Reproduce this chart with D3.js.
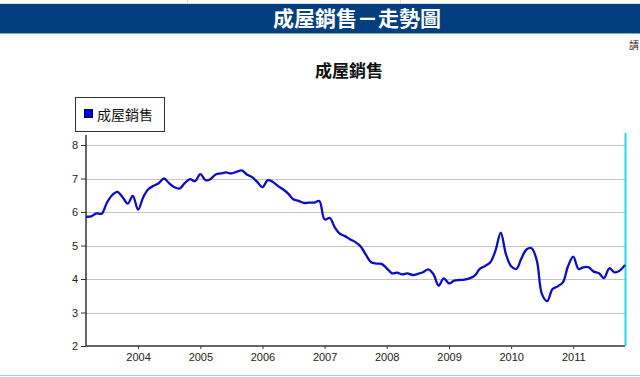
<!DOCTYPE html>
<html>
<head>
<meta charset="utf-8">
<script src="https://cdn.jsdelivr.net/npm/d3@7"></script>
<style>
  html, body { margin: 0; padding: 0; background: #fff; overflow: hidden; }
  svg { display: block; }
</style>
</head>
<body>
<div id="chart"></div>
<script>
// monthly values, Mar 2003 .. Nov 2011
const sales2003 = [5.86, 5.87, 5.96, 5.95, 6.27, 6.5, 6.6, 6.45, 6.25, 6.48];
const sales2004 = [6.07, 6.45, 6.68, 6.78, 6.86, 7.0, 6.86, 6.74, 6.7, 6.86, 6.98, 6.92];
const sales2005 = [7.13, 6.95, 6.98, 7.12, 7.15, 7.18, 7.15, 7.2, 7.24, 7.12, 7.04, 6.9];
const sales2006 = [6.74, 6.95, 6.9, 6.78, 6.68, 6.55, 6.38, 6.33, 6.27, 6.28, 6.28, 6.33];
const sales2007 = [5.78, 5.82, 5.55, 5.35, 5.28, 5.18, 5.1, 4.97, 4.72, 4.5, 4.46, 4.45];
const sales2008 = [4.32, 4.17, 4.19, 4.14, 4.17, 4.12, 4.15, 4.2, 4.29, 4.15, 3.8, 4.02];
const sales2009 = [3.87, 3.95, 3.97, 3.98, 4.02, 4.1, 4.3, 4.39, 4.5, 4.85, 5.38, 4.75];
const sales2010 = [4.38, 4.3, 4.6, 4.88, 4.92, 4.55, 3.55, 3.34, 3.7, 3.78, 3.9, 4.38];
const sales2011 = [4.67, 4.3, 4.35, 4.35, 4.22, 4.17, 4.03, 4.32, 4.2, 4.25, 4.42];

const yearTicks = [2004, 2005, 2006, 2007, 2008, 2009, 2010, 2011];
const valueTicks = [2, 3, 4, 5, 6, 7, 8];
const seriesName = '成屋銷售';
const pageTitle = '成屋銷售－走勢圖';

const values = [].concat(sales2003, sales2004, sales2005, sales2006, sales2007,
  sales2008, sales2009, sales2010, sales2011);
const months = d3.timeMonth.range(new Date(2003, 2, 1), new Date(2011, 11, 1));
const data = months.map((m, i) => ({ date: m, value: values[i] }));

const width = 640, height = 377;
const plot = { left: 86, right: 625, top: 135, bottom: 346 };

const svg = d3.select('#chart').append('svg')
  .attr('width', width).attr('height', height);

// page header
svg.append('line').attr('x1', 0).attr('x2', width).attr('y1', 3.5).attr('y2', 3.5)
  .attr('stroke', '#d8dde4');
[187, 400].forEach(x => {
  svg.append('line').attr('x1', x + 0.5).attr('x2', x + 0.5).attr('y1', 0).attr('y2', 3)
    .attr('stroke', '#cfd6de');
});
svg.append('rect').attr('x', 0).attr('y', 4).attr('width', width).attr('height', 29)
  .attr('fill', '#033e7e');
svg.append('line').attr('x1', 0).attr('x2', width).attr('y1', 33.5).attr('y2', 33.5)
  .attr('stroke', '#7fa6cf');
svg.append('text').attr('x', 357).attr('y', 26)
  .attr('text-anchor', 'middle').attr('fill', '#fff')
  .attr('font-family', '"Noto Sans CJK TC", sans-serif')
  .attr('font-size', '21px').attr('font-weight', '700')
  .text(pageTitle);
svg.append('text').attr('x', 629).attr('y', 49)
  .attr('fill', '#3a1a1a').attr('font-family', '"Noto Sans CJK TC", sans-serif')
  .attr('font-size', '10px').text('請');

// bottom border
svg.append('line').attr('x1', 0).attr('x2', width).attr('y1', 375.5).attr('y2', 375.5)
  .attr('stroke', '#a9c6e3');

const x = d3.scaleTime()
  .domain([months[0], months[months.length - 1]])
  .range([plot.left, plot.right]);
const y = d3.scaleLinear().domain([2, 8]).range([plot.bottom, 145]);

// chart title
svg.append('text').attr('x', 349).attr('y', 77)
  .attr('text-anchor', 'middle').attr('fill', '#111')
  .attr('font-family', '"Noto Sans CJK TC", sans-serif')
  .attr('font-size', '17px').attr('font-weight', '700')
  .text(seriesName);

// legend
const leg = svg.append('g');
leg.append('rect').attr('x', 75.5).attr('y', 97.5).attr('width', 89).attr('height', 34)
  .attr('fill', '#fff').attr('stroke', '#333');
leg.append('rect').attr('x', 84.5).attr('y', 109.5).attr('width', 8).attr('height', 8)
  .attr('fill', '#0000e0').attr('stroke', '#000033');
leg.append('text').attr('x', 97).attr('y', 120)
  .attr('fill', '#111').attr('font-family', '"Noto Sans CJK TC", sans-serif')
  .attr('font-size', '14px').text(seriesName);

// gridlines
svg.append('g').selectAll('line').data(valueTicks.filter(v => v > 2)).join('line')
  .attr('x1', plot.left).attr('x2', plot.right)
  .attr('y1', d => Math.round(y(d)) + 0.5).attr('y2', d => Math.round(y(d)) + 0.5)
  .attr('stroke', '#c4c4c4');

// y axis
const yAxis = svg.append('g').attr('transform', `translate(${plot.left},0)`)
  .call(d3.axisLeft(y).tickValues(valueTicks).tickSize(5).tickPadding(3).tickFormat(d3.format('d')));
yAxis.select('.domain').remove();
yAxis.append('line').attr('x1', 0).attr('x2', 0).attr('y1', plot.top).attr('y2', plot.bottom)
  .attr('stroke', '#333').attr('stroke-width', 1.5);
yAxis.selectAll('.tick line').attr('stroke', '#333');
yAxis.selectAll('text').attr('fill', '#222')
  .attr('font-family', '"Liberation Sans", Arial, sans-serif').attr('font-size', '11px');

// x axis
const xAxis = svg.append('g').attr('transform', `translate(0,${plot.bottom})`)
  .call(d3.axisBottom(x).tickValues(yearTicks.map(yr => new Date(yr, 0, 1)))
    .tickSize(3).tickPadding(4).tickFormat(d3.timeFormat('%Y')));
xAxis.select('.domain').remove();
xAxis.append('line').attr('x1', plot.left).attr('x2', plot.right).attr('y1', 0).attr('y2', 0)
  .attr('stroke', '#333').attr('stroke-width', 1.5);
xAxis.selectAll('.tick line').attr('stroke', '#333');
xAxis.selectAll('text').attr('fill', '#222')
  .attr('font-family', '"Liberation Sans", Arial, sans-serif').attr('font-size', '11px');

// right cyan edge
svg.append('line').attr('x1', plot.right + 0.5).attr('x2', plot.right + 0.5)
  .attr('y1', 133).attr('y2', plot.bottom)
  .attr('stroke', '#19dcee').attr('stroke-width', 2);

// series line
const line = d3.line()
  .x(d => x(d.date)).y(d => y(d.value))
  .curve(d3.curveCatmullRom.alpha(0.5));
svg.append('path').datum(data)
  .attr('d', line).attr('fill', 'none')
  .attr('stroke', '#0c0cc8').attr('stroke-width', 2.3)
  .attr('stroke-linejoin', 'round');
</script>
</body>
</html>
